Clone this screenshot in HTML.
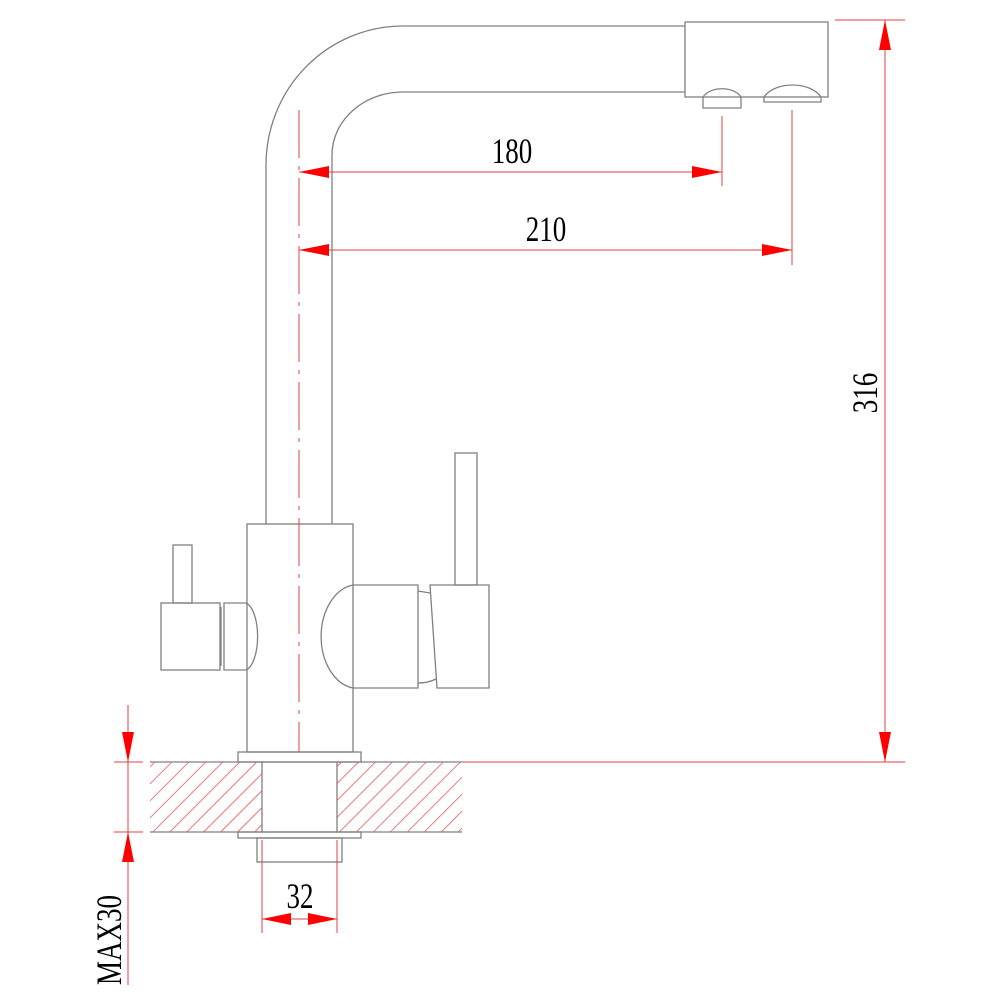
<!DOCTYPE html>
<html><head><meta charset="utf-8"><style>
html,body{margin:0;padding:0;background:#fff}
svg{display:block}
text{font-family:"Liberation Serif",serif;fill:#000}
</style></head><body>
<svg width="1000" height="1000" viewBox="0 0 1000 1000" xmlns="http://www.w3.org/2000/svg">
<defs>
<pattern id="h" patternUnits="userSpaceOnUse" width="12" height="12" patternTransform="rotate(45)">
<line x1="0" y1="0" x2="0" y2="12" stroke="#e02020" stroke-width="1.2"/>
</pattern>
<clipPath id="c1"><rect x="150" y="762" width="112" height="70"/><rect x="337" y="762" width="125" height="70"/></clipPath>
</defs>
<g clip-path="url(#c1)"><rect x="150" y="762" width="312" height="70" fill="url(#h)"/></g>
<g fill="none" stroke="#808080" stroke-width="1.3">
<path d="M266 524 L266 165 A137 139 0 0 1 403 26 L685 26"/>
<path d="M332 524 L332 155 A71 63 0 0 1 403 92 L685 92"/>
<rect x="685" y="22" width="143" height="75"/>
<path d="M703 97 L703 108 L741 108 L741 97 C734 86 710 86 703 97"/>
<path d="M764 97 L764 102 L821 102 L821 97 C810 81 775 81 764 97"/>
<rect x="247" y="524" width="106" height="228"/>
<rect x="238" y="752" width="123" height="10"/>
<line x1="150" y1="762" x2="462" y2="762"/>
<line x1="150" y1="832" x2="462" y2="832"/>
<line x1="262" y1="762" x2="262" y2="832"/>
<line x1="337" y1="762" x2="337" y2="832"/>
<rect x="238" y="832" width="123" height="6"/>
<rect x="257" y="838" width="85" height="24"/>
<rect x="173" y="545" width="19" height="58"/>
<rect x="161" y="603" width="59" height="67"/>
<line x1="221" y1="607" x2="221" y2="666"/>
<path d="M224 603 L246 603 A14 34 0 0 1 246 670 L224 670 Z"/>
<path d="M353 585 A37 52 0 0 0 353 688"/>
<path d="M353 585 L418 585 L418 688 L353 688"/>
<path d="M418 591 L430 593 M418 683 Q428 683 436 679"/>
<path d="M430 585 L489 585 L489 688 L437 688 Z"/>
<rect x="455" y="453" width="22" height="132"/>
</g>
<g stroke="#e04040" stroke-width="1" fill="none">
<line x1="299" y1="110" x2="299" y2="752" stroke-dasharray="48,8,4,8"/>
<line x1="722" y1="116" x2="722" y2="186"/>
<line x1="792" y1="110" x2="792" y2="265"/>
<line x1="299" y1="172" x2="722" y2="172"/>
<line x1="299" y1="250" x2="792" y2="250"/>
<line x1="835" y1="20" x2="905" y2="20"/>
<line x1="462" y1="762" x2="905" y2="762"/>
<line x1="885" y1="20" x2="885" y2="762"/>
<line x1="114" y1="762" x2="143" y2="762"/>
<line x1="114" y1="832" x2="143" y2="832"/>
<line x1="128" y1="705" x2="128" y2="985"/>
<line x1="262" y1="840" x2="262" y2="933"/>
<line x1="337" y1="840" x2="337" y2="933"/>
<line x1="262" y1="919" x2="337" y2="919"/>
</g>
<g fill="#ff0000">
<polygon points="299,172 329,166 329,178"/>
<polygon points="722,172 692,166 692,178"/>
<polygon points="299,250 329,244 329,256"/>
<polygon points="792,250 762,244 762,256"/>
<polygon points="885,20 879,50 891,50"/>
<polygon points="885,762 879,732 891,732"/>
<polygon points="128,762 122,732 134,732"/>
<polygon points="128,832 122,862 134,862"/>
<polygon points="262,919 291,913 291,925"/>
<polygon points="337,919 308,913 308,925"/>
</g>
<g font-size="36">
<text x="512" y="163" text-anchor="middle" transform="translate(512 0) scale(0.75 1) translate(-512 0)">180</text>
<text x="546" y="241" text-anchor="middle" transform="translate(546 0) scale(0.75 1) translate(-546 0)">210</text>
<text x="300" y="908" text-anchor="middle" transform="translate(300 0) scale(0.75 1) translate(-300 0)">32</text>
<text transform="translate(877 393) rotate(-90) scale(0.75 1)" text-anchor="middle">316</text>
<text transform="translate(121 940) rotate(-90) scale(0.75 1)" text-anchor="middle">MAX30</text>
</g>
</svg>
</body></html>
